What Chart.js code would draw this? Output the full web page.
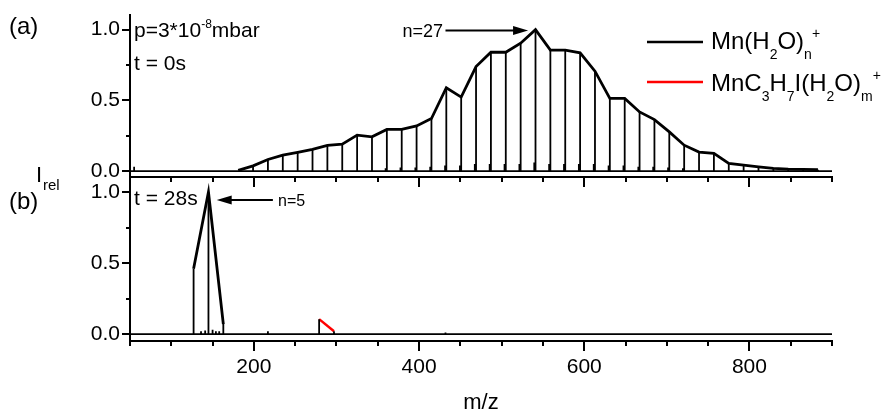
<!DOCTYPE html>
<html><head><meta charset="utf-8">
<script src="https://cdn.jsdelivr.net/npm/chart.js@4.4.0/dist/chart.umd.min.js"></script>
<style>
html,body{margin:0;padding:0;background:#fff;}
#wrap{position:relative;width:888px;height:414px;overflow:hidden;background:#fff;}
canvas{position:absolute;left:0;top:0;}
#cb{z-index:1}
#ca{z-index:2}
</style></head><body>
<div id="wrap"><canvas id="cb" width="888" height="414"></canvas><canvas id="ca" width="888" height="200"></canvas></div>
<script>
const FONT = '"Liberation Sans", Arial, Helvetica, sans-serif';

// ---- axes ----
const xMin = 50, xMax = 900;
const xMajorTicks = [200, 400, 600, 800];
const xMinorTicks = [50,100,150,250,300,350,450,500,550,650,700,750,850,900];
const yTicks = [0, 0.5, 1.0];
const yMinorTicks = [0.25, 0.75];

// ---- panel (a): t = 0 s, Mn(H2O)n+ ----
const aMonoMz = [55];
const aMonoI = [0.03];
const aClusterMz = [181,199,217,235,253,271,289,307,325,343,361,379,397,415,433,451,469,487,505,523,541,559,577,595,613,631,649,667,685,703,721,739,757,775,793,811,829,847,865,883];
const aClusterI = [0.005,0.037,0.082,0.113,0.132,0.153,0.181,0.190,0.254,0.242,0.294,0.294,0.319,0.371,0.589,0.523,0.739,0.840,0.840,0.904,1.000,0.855,0.855,0.836,0.706,0.514,0.514,0.418,0.364,0.277,0.183,0.134,0.125,0.054,0.042,0.030,0.019,0.014,0.012,0.010];
// small side peaks at the foot of the cluster peaks
const aSideMz = [359.5,377.5,395.5,413.5,431.5,449.5,467.5,485.5,503.5,521.5,539.5,557.5,575.5,593.5,611.5,629.5,647.5,665.5,683.5,701.5,719.5];
const aSideI = [0.02,0.025,0.025,0.03,0.04,0.04,0.05,0.05,0.05,0.05,0.06,0.05,0.05,0.05,0.05,0.04,0.04,0.03,0.03,0.025,0.02];

// ---- panel (b): t = 28 s ----
const bClusterMz = [127, 145, 163];
const bClusterI = [0.46, 1.0, 0.07];
const bNoiseMz = [136, 141, 150, 154, 158, 217, 432];
const bNoiseI = [0.02, 0.025, 0.03, 0.02, 0.02, 0.02, 0.01];
const bRedMz = [279, 297];
const bRedI = [0.105, 0.02];

// ---- helpers ----
function stickSpectrum(list) {
  const pk = [];
  list.forEach(([mz, it]) => mz.forEach((m, i) => pk.push([m, it[i]])));
  pk.sort((p, q) => p[0] - q[0]);
  const pts = [{x: xMin, y: 0}];
  pk.forEach(([m, v]) => pts.push({x: m, y: 0}, {x: m, y: v}, {x: m, y: 0}));
  pts.push({x: xMax, y: 0});
  return pts;
}
function envelope(mz, it) { return mz.map((m, i) => ({x: m, y: it[i]})); }

function yScale(min, max) {
  return {
    type: 'linear', min, max,
    afterBuildTicks: s => { s.ticks = yTicks.map(v => ({value: v})); },
    afterFit: s => { s.width = 130; },
    grid: {drawOnChartArea: false, drawTicks: true, tickLength: 8, color: '#000', lineWidth: 2},
    border: {display: true, color: '#000', width: 2},
    ticks: {color: '#000', font: {family: FONT, size: 21}, padding: 2, callback: v => v.toFixed(1)}
  };
}
function xScale(showLabels, height) {
  return {
    type: 'linear', min: xMin, max: xMax,
    afterBuildTicks: s => { s.ticks = xMajorTicks.map(v => ({value: v})); },
    afterFit: s => { s.height = height; },
    grid: {drawOnChartArea: false, drawTicks: true, tickLength: 10, color: '#000', lineWidth: 2},
    border: {display: true, color: '#000', width: 2},
    ticks: {display: showLabels, color: '#000', font: {family: FONT, size: 21}, padding: 4, maxRotation: 0},
    title: {display: showLabels, text: 'm/z', color: '#000', font: {family: FONT, size: 22, lineHeight: 1.0}, padding: {top: 0, bottom: 0}}
  };
}

const minorTicks = {
  id: 'minorTicks',
  afterDraw(chart) {
    const ctx = chart.ctx, a = chart.chartArea, xs = chart.scales.x, ys = chart.scales.y;
    ctx.save();
    ctx.strokeStyle = '#000'; ctx.lineWidth = 2;
    ctx.beginPath();
    xMinorTicks.forEach(v => { const p = Math.round(xs.getPixelForValue(v)); ctx.moveTo(p, a.bottom); ctx.lineTo(p, a.bottom + 5); });
    yMinorTicks.forEach(v => { const p = Math.round(ys.getPixelForValue(v)); ctx.moveTo(a.left, p); ctx.lineTo(a.left - 4, p); });
    ctx.stroke();
    ctx.restore();
  }
};

function rich(ctx, x, y, parts, size, subSize) {
  ctx.textBaseline = 'alphabetic'; ctx.textAlign = 'left';
  for (const [t, k] of parts) {
    const fs = k ? subSize : size;
    ctx.font = fs + 'px ' + FONT;
    const dy = k === 'sub' ? size * 0.42 : (k === 'sup' ? -size * 0.45 : 0);
    ctx.fillText(t, x, y + dy);
    x += ctx.measureText(t).width;
  }
}
function arrow(ctx, x1, y, x2, headLen, headHalf) {
  const dir = Math.sign(x2 - x1);
  ctx.beginPath(); ctx.moveTo(x1, y); ctx.lineTo(x2 - dir * headLen * 0.8, y); ctx.stroke();
  ctx.beginPath(); ctx.moveTo(x2, y); ctx.lineTo(x2 - dir * headLen, y - headHalf); ctx.lineTo(x2 - dir * headLen, y + headHalf); ctx.closePath(); ctx.fill();
}

// arrows in data coordinates
const arrowA = {fromMz: 432, toMz: 532, y: 0.993};
const arrowB = {fromMz: 223, toMz: 155, y: 0.944};

const annotA = {
  id: 'annotA',
  afterDraw(chart) {
    const ctx = chart.ctx, xs = chart.scales.x, ys = chart.scales.y;
    ctx.save(); ctx.fillStyle = '#000'; ctx.strokeStyle = '#000';
    rich(ctx, 9, 34, [['(a)', '']], 24, 14);
    rich(ctx, 36, 182, [['I', '']], 22, 15);
    rich(ctx, 43, 190, [['rel', '']], 15, 15);
    rich(ctx, 134, 37, [['p=3*10', ''], ['-8', 'sup'], ['mbar', '']], 21, 12);
    rich(ctx, 134, 70, [['t = 0s', '']], 21, 12);
    ctx.font = '18px ' + FONT; ctx.textAlign = 'right'; ctx.fillText('n=27', 443, 37);
    ctx.lineWidth = 2;
    arrow(ctx, xs.getPixelForValue(arrowA.fromMz), ys.getPixelForValue(arrowA.y), xs.getPixelForValue(arrowA.toMz), 15, 4.5);
    // legend
    const ds = chart.data.datasets;
    ctx.lineWidth = 2.5;
    ctx.strokeStyle = ds[1].borderColor; ctx.beginPath(); ctx.moveTo(647, 42); ctx.lineTo(703, 42); ctx.stroke();
    ctx.strokeStyle = '#ff0000'; ctx.beginPath(); ctx.moveTo(647, 82); ctx.lineTo(703, 82); ctx.stroke();
    rich(ctx, 711, 49, [['Mn(H', ''], ['2', 'sub'], ['O)', ''], ['n', 'sub'], ['+', 'sup']], 24, 14);
    rich(ctx, 711, 91, [['MnC', ''], ['3', 'sub'], ['H', ''], ['7', 'sub'], ['I(H', ''], ['2', 'sub'], ['O)', ''], ['m', 'sub'], ['+', 'sup']], 24, 14);
    ctx.restore();
  }
};
const annotB = {
  id: 'annotB',
  afterDraw(chart) {
    const ctx = chart.ctx, xs = chart.scales.x, ys = chart.scales.y;
    ctx.save(); ctx.fillStyle = '#000'; ctx.strokeStyle = '#000';
    rich(ctx, 9, 209, [['(b)', '']], 24, 14);
    rich(ctx, 134, 205, [['t = 28s', '']], 21, 12);
    ctx.lineWidth = 2;
    arrow(ctx, xs.getPixelForValue(arrowB.fromMz), ys.getPixelForValue(arrowB.y), xs.getPixelForValue(arrowB.toMz), 15, 4.5);
    ctx.font = '16px ' + FONT; ctx.textAlign = 'left'; ctx.fillText('n=5', 278, 206);
    ctx.restore();
  }
};

const common = (padTop, padBottom, xShow, xHeight, yMin, yMax) => ({
  responsive: false, animation: false, devicePixelRatio: 1,
  layout: {padding: {left: 0, right: 56, top: padTop, bottom: padBottom}},
  plugins: {legend: {display: false}, tooltip: {enabled: false}},
  elements: {point: {radius: 0}, line: {tension: 0}},
  scales: {x: xScale(xShow, xHeight), y: yScale(yMin, yMax)}
});

new Chart(document.getElementById('ca'), {
  type: 'line',
  data: {datasets: [
    {label: 'spectrum', data: stickSpectrum([[aMonoMz, aMonoI], [aClusterMz, aClusterI], [aSideMz, aSideI]]), borderColor: '#000', borderWidth: 1.8, pointRadius: 0},
    {label: 'Mn(H2O)n+', data: envelope(aClusterMz, aClusterI), borderColor: '#000', borderWidth: 2.8, pointRadius: 0}
  ]},
  options: common(14, 11, false, 12, -0.042, 1.106),
  plugins: [minorTicks, annotA]
});

new Chart(document.getElementById('cb'), {
  type: 'line',
  data: {datasets: [
    {label: 'spectrum', data: stickSpectrum([[bClusterMz, bClusterI], [bNoiseMz, bNoiseI], [bRedMz, bRedI]]), borderColor: '#000', borderWidth: 1.8, pointRadius: 0},
    {label: 'Mn(H2O)n+', data: envelope(bClusterMz, bClusterI), borderColor: '#000', borderWidth: 2.8, pointRadius: 0},
    {label: 'MnC3H7I(H2O)m+', data: envelope(bRedMz, bRedI), borderColor: '#ff0000', borderWidth: 2.5, pointRadius: 0}
  ]},
  options: common(177, 0, true, 73, -0.049, 1.106),
  plugins: [minorTicks, annotB]
});
</script>
</body></html>
